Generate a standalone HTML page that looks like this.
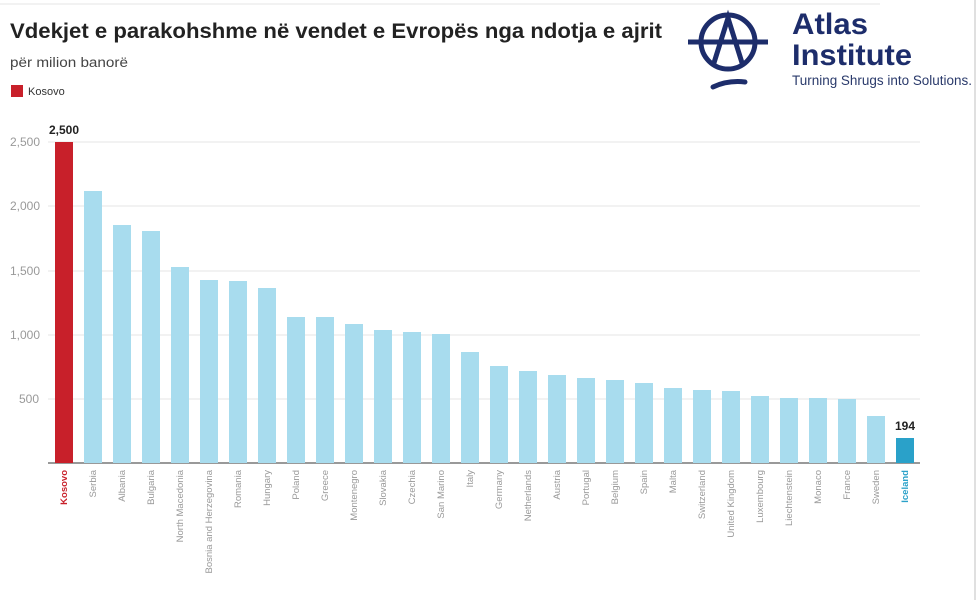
<!DOCTYPE html>
<html><head><meta charset="utf-8"><style>
body{margin:0;background:#fff;width:980px;height:600px;overflow:hidden;font-family:"Liberation Sans",sans-serif}
</style></head><body>
<svg width="980" height="600" xmlns="http://www.w3.org/2000/svg" font-family="Liberation Sans, sans-serif">
<line x1="0" y1="4" x2="880" y2="4" stroke="#e6e6e6"/>
<line x1="975" y1="0" x2="975" y2="600" stroke="#e0e0e0" stroke-width="2"/>
<text x="10" y="38" font-size="21" font-weight="bold" fill="#222" textLength="652" lengthAdjust="spacingAndGlyphs">Vdekjet e parakohshme në vendet e Evropës nga ndotja e ajrit</text>
<text x="10" y="67" font-size="13.5" fill="#444" textLength="118" lengthAdjust="spacingAndGlyphs">për milion banorë</text>
<rect x="11" y="85" width="12" height="12" fill="#c8202a"/>
<text x="28" y="95" font-size="11" fill="#333">Kosovo</text>
<g stroke="#e6e6e6">
<line x1="48" y1="142" x2="920" y2="142"/><line x1="48" y1="206" x2="920" y2="206"/><line x1="48" y1="271" x2="920" y2="271"/><line x1="48" y1="335" x2="920" y2="335"/><line x1="48" y1="399" x2="920" y2="399"/>
</g>
<line x1="48" y1="463" x2="920" y2="463" stroke="#333"/>
<g font-size="12" fill="#999">
<text x="10" y="146">2,500</text><text x="10" y="210">2,000</text><text x="10" y="275">1,500</text><text x="10" y="339">1,000</text><text x="19" y="403">500</text>
</g>
<g fill="#a8dcee">
<rect x="84" y="191" width="18" height="272"/><rect x="113" y="225" width="18" height="238"/><rect x="142" y="231" width="18" height="232"/><rect x="171" y="267" width="18" height="196"/><rect x="200" y="280" width="18" height="183"/><rect x="229" y="281" width="18" height="182"/><rect x="258" y="288" width="18" height="175"/><rect x="287" y="317" width="18" height="146"/><rect x="316" y="317" width="18" height="146"/><rect x="345" y="324" width="18" height="139"/><rect x="374" y="330" width="18" height="133"/><rect x="403" y="332" width="18" height="131"/><rect x="432" y="334" width="18" height="129"/><rect x="461" y="352" width="18" height="111"/><rect x="490" y="366" width="18" height="97"/><rect x="519" y="371" width="18" height="92"/><rect x="548" y="375" width="18" height="88"/><rect x="577" y="378" width="18" height="85"/><rect x="606" y="380" width="18" height="83"/><rect x="635" y="383" width="18" height="80"/><rect x="664" y="388" width="18" height="75"/><rect x="693" y="390" width="18" height="73"/><rect x="722" y="391" width="18" height="72"/><rect x="751" y="396" width="18" height="67"/><rect x="780" y="398" width="18" height="65"/><rect x="809" y="398" width="18" height="65"/><rect x="838" y="399" width="18" height="64"/><rect x="867" y="416" width="18" height="47"/>
</g>
<rect x="55" y="142" width="18" height="321" fill="#c8202a"/>
<rect x="896" y="438" width="18" height="25" fill="#2aa1c9"/>
<text x="64" y="134" font-size="12" font-weight="bold" fill="#222" text-anchor="middle">2,500</text>
<text x="905" y="430" font-size="12" font-weight="bold" fill="#222" text-anchor="middle">194</text>
<g font-size="9.5" fill="#999" text-anchor="end">
<text transform="translate(67,470) rotate(-90)" fill="#c8202a" font-weight="bold">Kosovo</text>
<text transform="translate(96,470) rotate(-90)">Serbia</text>
<text transform="translate(125,470) rotate(-90)">Albania</text>
<text transform="translate(154,470) rotate(-90)">Bulgaria</text>
<text transform="translate(183,470) rotate(-90)">North Macedonia</text>
<text transform="translate(212,470) rotate(-90)">Bosnia and Herzegovina</text>
<text transform="translate(241,470) rotate(-90)">Romania</text>
<text transform="translate(270,470) rotate(-90)">Hungary</text>
<text transform="translate(299,470) rotate(-90)">Poland</text>
<text transform="translate(328,470) rotate(-90)">Greece</text>
<text transform="translate(357,470) rotate(-90)">Montenegro</text>
<text transform="translate(386,470) rotate(-90)">Slovakia</text>
<text transform="translate(415,470) rotate(-90)">Czechia</text>
<text transform="translate(444,470) rotate(-90)">San Marino</text>
<text transform="translate(473,470) rotate(-90)">Italy</text>
<text transform="translate(502,470) rotate(-90)">Germany</text>
<text transform="translate(531,470) rotate(-90)">Netherlands</text>
<text transform="translate(560,470) rotate(-90)">Austria</text>
<text transform="translate(589,470) rotate(-90)">Portugal</text>
<text transform="translate(618,470) rotate(-90)">Belgium</text>
<text transform="translate(647,470) rotate(-90)">Spain</text>
<text transform="translate(676,470) rotate(-90)">Malta</text>
<text transform="translate(705,470) rotate(-90)">Switzerland</text>
<text transform="translate(734,470) rotate(-90)">United Kingdom</text>
<text transform="translate(763,470) rotate(-90)">Luxembourg</text>
<text transform="translate(792,470) rotate(-90)">Liechtenstein</text>
<text transform="translate(821,470) rotate(-90)">Monaco</text>
<text transform="translate(850,470) rotate(-90)">France</text>
<text transform="translate(879,470) rotate(-90)">Sweden</text>
<text transform="translate(908,470) rotate(-90)" fill="#2aa1c9" font-weight="bold">Iceland</text>
</g>
<g stroke="#1d2d6b" fill="none" stroke-width="5">
<circle cx="728" cy="42" r="27"/>
<line x1="688" y1="42" x2="768" y2="42"/>
<path d="M713 66 L728 18 L743 66"/>
<path d="M713 87 Q728 80 745 82" stroke-linecap="round"/>
</g>
<text x="792" y="34" font-size="30" fill="#1d2d6b" font-weight="600" textLength="76" lengthAdjust="spacingAndGlyphs">Atlas</text>
<text x="792" y="65" font-size="30" fill="#1d2d6b" font-weight="600" textLength="120" lengthAdjust="spacingAndGlyphs">Institute</text>
<text x="792" y="85" font-size="13.5" fill="#2a3a6b" textLength="180" lengthAdjust="spacingAndGlyphs">Turning Shrugs into Solutions.</text>
</svg>
</body></html>
